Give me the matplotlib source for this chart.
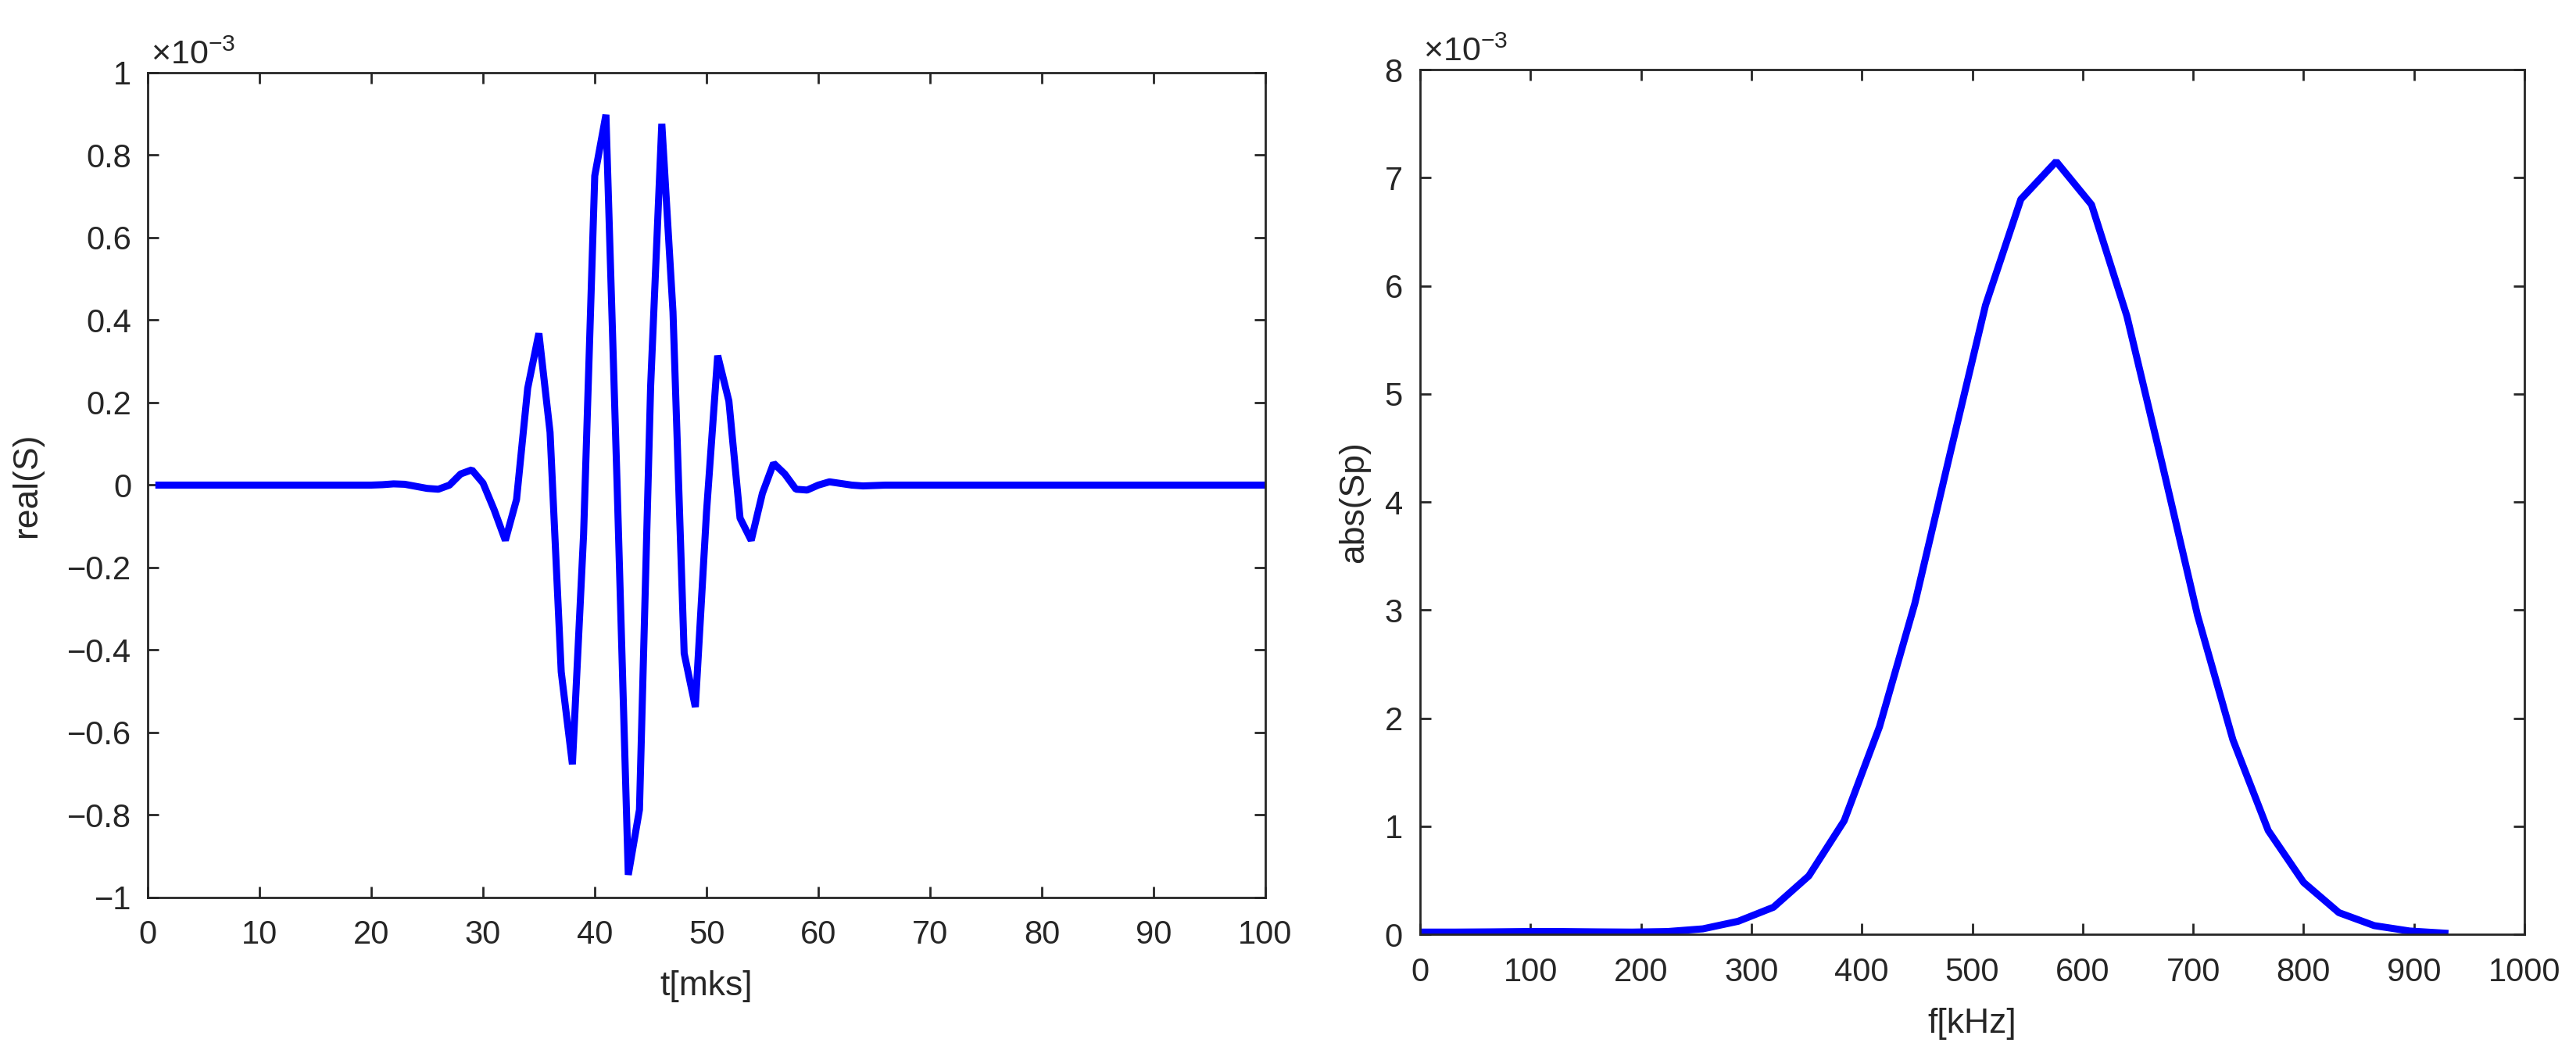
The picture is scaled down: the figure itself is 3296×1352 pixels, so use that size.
import numpy as np
import matplotlib.pyplot as plt
from matplotlib.ticker import FuncFormatter, MultipleLocator

plt.rcParams['font.family'] = ['Liberation Sans', 'DejaVu Sans']
plt.rcParams['mathtext.fontset'] = 'custom'
plt.rcParams['mathtext.rm'] = 'Liberation Sans'
plt.rcParams['mathtext.it'] = 'Liberation Sans:italic'

# time signal, t = 1..100 mks, values in units of 1e-3
t_mks = list(range(1, 101))
real_s_e3 = [
    0.0, 0.0, 0.0, 0.0, 0.0, 0.0, 0.0, 0.0, 0.0, 0.0,            # 1-10
    0.0, 0.0, 0.0, 0.0, 0.0, 0.0, 0.0, 0.0, 0.0, 0.0,            # 11-20
    0.001, 0.003, 0.002, -0.003, -0.008, -0.01, 0.0, 0.027, 0.037, 0.005,   # 21-30
    -0.06, -0.134, -0.035, 0.235, 0.368, 0.128, -0.453, -0.677, -0.12, 0.75,  # 31-40
    0.898, 0.0, -0.945, -0.787, 0.24, 0.876, 0.42, -0.408, -0.538, -0.065,   # 41-50
    0.314, 0.204, -0.08, -0.134, -0.02, 0.053, 0.027, -0.01, -0.012, 0.0,    # 51-60
    0.008, 0.004, 0.0, -0.002, -0.001, 0.0, 0.0, 0.0, 0.0, 0.0,  # 61-70
    0.0, 0.0, 0.0, 0.0, 0.0, 0.0, 0.0, 0.0, 0.0, 0.0,            # 71-80
    0.0, 0.0, 0.0, 0.0, 0.0, 0.0, 0.0, 0.0, 0.0, 0.0,            # 81-90
    0.0, 0.0, 0.0, 0.0, 0.0, 0.0, 0.0, 0.0, 0.0, 0.0,            # 91-100
]

# spectrum, f in kHz, values in units of 1e-3
f_khz = [0, 32, 64, 96, 128, 160, 192, 224, 256, 288,
         320, 352, 384, 416, 448, 480, 512, 544, 576, 608,
         640, 672, 704, 736, 768, 800, 832, 864, 896, 928]
abs_sp_e3 = [0.02, 0.02, 0.022, 0.025, 0.025, 0.022, 0.02, 0.025, 0.05, 0.12,
             0.25, 0.54, 1.05, 1.92, 3.06, 4.45, 5.82, 6.8, 7.15, 6.75,
             5.72, 4.35, 2.95, 1.8, 0.96, 0.48, 0.2, 0.08, 0.03, 0.01]

real_s = np.array(real_s_e3) * 1e-3
abs_sp = np.array(abs_sp_e3) * 1e-3

axcol = '#262626'
tick_fs = 30
label_fs = 32


def e3_fmt(v, pos):
    s = '%g' % round(v * 1e3, 6)
    return s.replace('-', '\u2212')


def style_axes(ax, xpad, ypad):
    for sp in ax.spines.values():
        sp.set_color(axcol)
        sp.set_linewidth(2.0)
    ax.tick_params(direction='in', length=10, width=2.0, colors=axcol,
                   labelsize=tick_fs, top=True, right=True)
    ax.tick_params(axis='x', pad=xpad)
    ax.tick_params(axis='y', pad=ypad)
    ax.yaxis.set_major_formatter(FuncFormatter(e3_fmt))
    ax.annotate(r'$\times\mathregular{10^{-3}}$', xy=(0, 1), xycoords='axes fraction',
                xytext=(3, 8), textcoords='offset points', ha='left', va='baseline',
                fontsize=31, color=axcol)


fig = plt.figure(figsize=(32.96, 13.52), dpi=100)

ax1 = fig.add_axes([0.05734, 0.15089, 0.43386, 0.78033])
ax1.plot(t_mks, real_s, color=(0, 0, 1), linewidth=6.5, solid_joinstyle='bevel')
ax1.set_xlim(0, 100)
ax1.set_ylim(-1e-3, 1e-3)
ax1.xaxis.set_major_locator(MultipleLocator(10))
ax1.yaxis.set_major_locator(MultipleLocator(0.2e-3))
style_axes(ax1, 20, 15)
ax1.set_xlabel('t[mks]', fontsize=label_fs, color=axcol, labelpad=18)
ax1.set_ylabel('real(S)', fontsize=label_fs, color=axcol)
ax1.yaxis.set_label_coords(-0.094, 0.5)

ax2 = fig.add_axes([0.55128, 0.11612, 0.42870, 0.81805])
ax2.plot(f_khz, abs_sp, color=(0, 0, 1), linewidth=6.5, solid_joinstyle='bevel')
ax2.set_xlim(0, 1000)
ax2.set_ylim(0, 8e-3)
ax2.xaxis.set_major_locator(MultipleLocator(100))
ax2.yaxis.set_major_locator(MultipleLocator(1e-3))
style_axes(ax2, 21, 16)
ax2.set_xlabel('f[kHz]', fontsize=label_fs, color=axcol, labelpad=18)
ax2.set_ylabel('abs(Sp)', fontsize=label_fs, color=axcol)
ax2.yaxis.set_label_coords(-0.045, 0.5)

fig.savefig('out.png', dpi=100, facecolor='white')
